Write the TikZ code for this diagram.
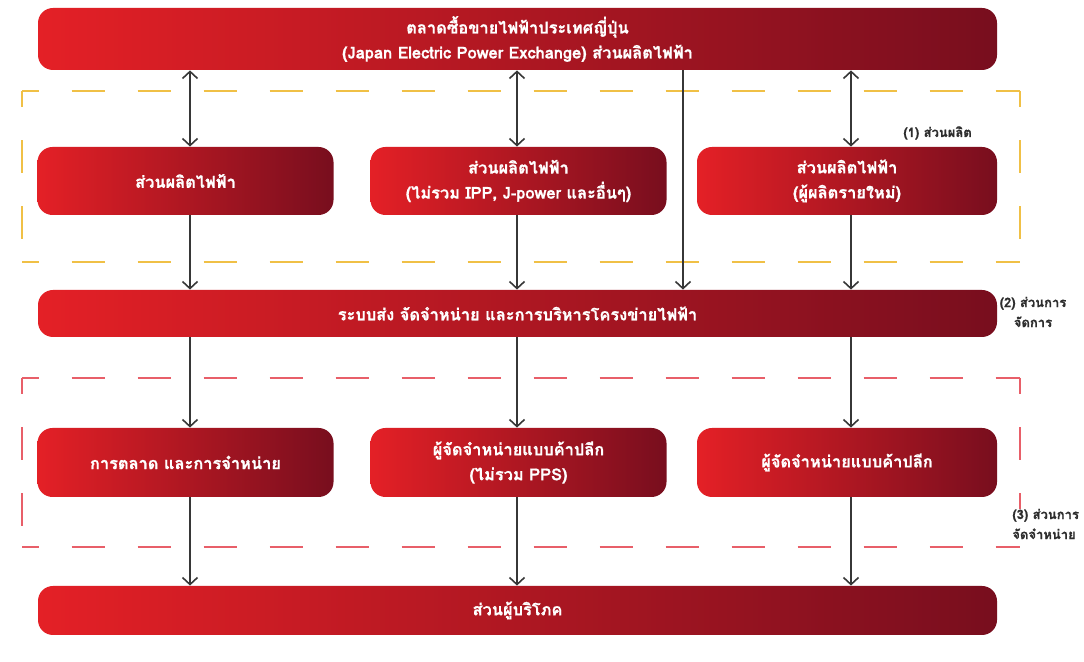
\documentclass[tikz,border=0pt]{standalone}
\usepackage{fontspec}
\newfontfamily\thai[Script=Thai, BoldFeatures={FakeBold=0.8}]{Loma}
\usetikzlibrary{arrows.meta}
\definecolor{rl}{RGB}{228,32,38}
\definecolor{rd}{RGB}{120,14,30}
\definecolor{ydash}{RGB}{240,192,70}
\definecolor{rdash}{RGB}{232,95,105}
\definecolor{arr}{RGB}{55,55,55}
\definecolor{lbl}{RGB}{45,45,45}
\begin{document}
\begin{tikzpicture}[x=0.5pt,y=-0.5pt,
  box/.style={rounded corners=7.5pt, left color=rl, right color=rd, draw=none,
    text=white, font=\thai\bfseries\fontsize{8.2}{12.5}\selectfont, align=center,
    inner sep=0pt},
  wide/.style={box, minimum width=479.5pt},
  small/.style={box, minimum width=148pt, minimum height=34.5pt},
  lab/.style={text=lbl, font=\thai\bfseries\fontsize{6.5}{10}\selectfont, inner sep=0pt},
  conn/.style={draw=arr, line width=0.8pt},
  dn/.style={conn, -{Straight Barb[length=3.5pt,width=7.5pt,line width=0.8pt]}},
  both/.style={conn, {Straight Barb[length=3.5pt,width=7.5pt,line width=0.8pt]}-{Straight Barb[length=3.5pt,width=7.5pt,line width=0.8pt]}},
  yd/.style={draw=ydash, line width=1pt, dash pattern=on 16.5pt off 16.5pt, dash phase=8.25pt},
  rdd/.style={draw=rdash, line width=1pt, dash pattern=on 16.5pt off 16.5pt, dash phase=8.25pt}]
\useasboundingbox (0,0) rectangle (1084,662);
\fill[white] (0,0) rectangle (1084,662);

% dashed group frames
\draw[yd] (22,91) -- (1020,91);
\draw[yd] (22,91) -- (22,262);
\draw[yd] (22,262) -- (1020,262);
\draw[yd] (1020,91) -- (1020,262);
\draw[rdd] (22,378) -- (1020,378);
\draw[rdd] (22,378) -- (22,547);
\draw[rdd] (22,547) -- (1020,547);
\draw[rdd] (1020,378) -- (1020,547);

% x positions of connectors
\coordinate (xa) at (190,0);
\coordinate (xb) at (517,0);
\coordinate (xc) at (683,0);
\coordinate (xd) at (851,0);

% nodes
\node[wide, minimum height=31pt] (top) at (517.5,39)
  {ตลาดซื้อขายไฟฟ้าประเทศญี่ปุ่น\\(Japan Electric Power Exchange) ส่วนผลิตไฟฟ้า};
\node[small, minimum height=34pt] (g1) at (185.5,181) {ส่วนผลิตไฟฟ้า};
\node[small, minimum height=34pt] (g2) at (518.5,181) {ส่วนผลิตไฟฟ้า\\(ไม่รวม IPP, J-power และอื่นๆ)};
\node[small, minimum height=34pt, minimum width=150pt] (g3) at (847,181) {ส่วนผลิตไฟฟ้า\\(ผู้ผลิตรายใหม่)};
\node[wide, minimum height=23.5pt] (mid) at (517.5,313.5) {ระบบส่ง จัดจำหน่าย และการบริหารโครงข่ายไฟฟ้า};
\node[small] (d1) at (185.5,462.5) {การตลาด และการจำหน่าย};
\node[small] (d2) at (518.5,462.5) {ผู้จัดจำหน่ายแบบค้าปลีก\\(ไม่รวม PPS)};
\node[small, minimum width=150pt] (d3) at (847,462.5) {ผู้จัดจำหน่ายแบบค้าปลีก};
\node[wide, minimum height=24.5pt] (bot) at (517.5,610.5) {ส่วนผู้บริโภค};

% labels
\node[lab, anchor=west] (l1) at (903,133) {(1) ส่วนผลิต};
\node[lab, align=center] (l2) at (1033,312) {(2) ส่วนการ\\จัดการ};
\node[fill=white, inner sep=1pt, lab, align=left, anchor=west] (l3) at (1012,524) {(3) ส่วนการ\\จัดจำหน่าย};

% connectors
\draw[both] (top.south -| xa) -- (g1.north -| xa);
\draw[both] (top.south -| xb) -- (g2.north -| xb);
\draw[both] (top.south -| xd) -- (g3.north -| xd);
\draw[dn] (top.south -| xc) -- (mid.north -| xc);
\draw[dn] (g1.south -| xa) -- (mid.north -| xa);
\draw[dn] (g2.south -| xb) -- (mid.north -| xb);
\draw[dn] (g3.south -| xd) -- (mid.north -| xd);
\draw[dn] (mid.south -| xa) -- (d1.north -| xa);
\draw[dn] (mid.south -| xb) -- (d2.north -| xb);
\draw[dn] (mid.south -| xd) -- (d3.north -| xd);
\draw[dn] (d1.south -| xa) -- (bot.north -| xa);
\draw[dn] (d2.south -| xb) -- (bot.north -| xb);
\draw[dn] (d3.south -| xd) -- (bot.north -| xd);
\end{tikzpicture}
\end{document}
